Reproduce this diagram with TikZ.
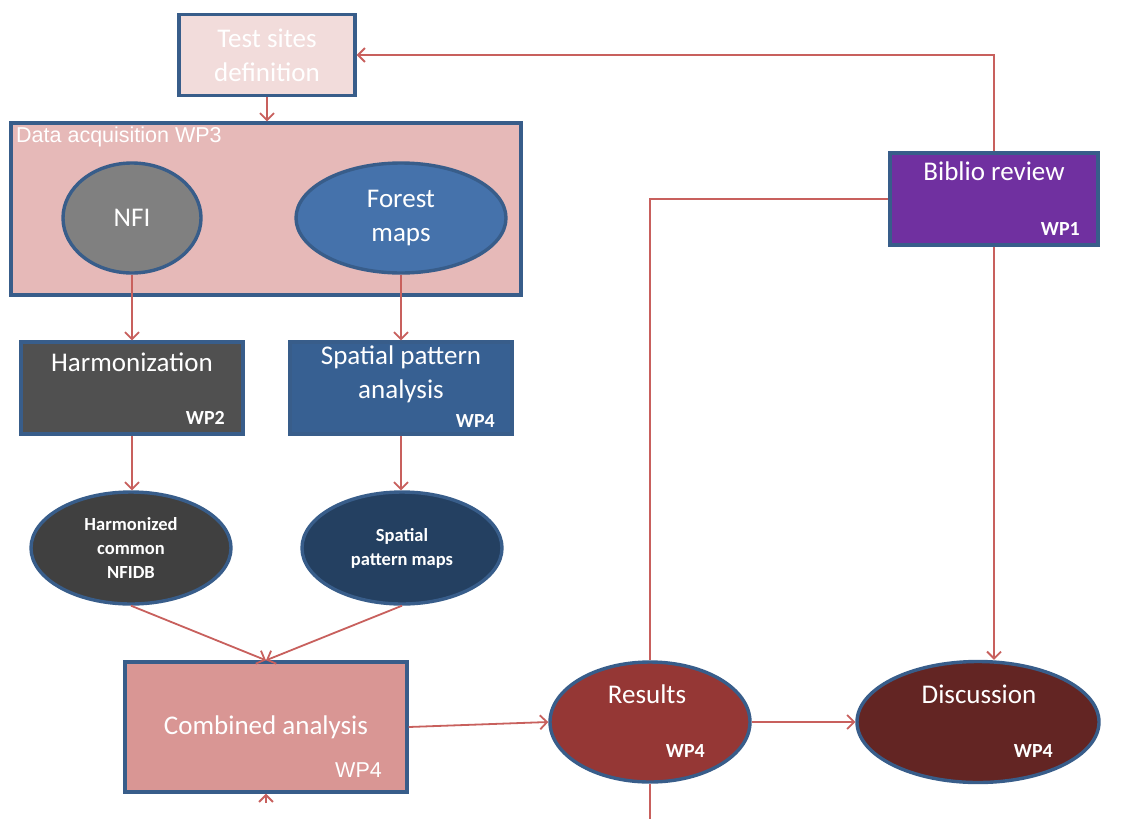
\documentclass[tikz,border=0pt]{standalone}
\usepackage{fontspec}
\setmainfont{Carlito}
\newfontfamily\thinfont{Liberation Sans}
\usetikzlibrary{shapes.geometric,arrows.meta}
\definecolor{bordc}{HTML}{385D8A}
\definecolor{arrc}{HTML}{C8605D}
\definecolor{testc}{HTML}{F2DCDB}
\definecolor{dac}{HTML}{E6B9B8}
\definecolor{nfic}{HTML}{808080}
\definecolor{forc}{HTML}{4572AB}
\definecolor{harmc}{HTML}{505050}
\definecolor{spac}{HTML}{376092}
\definecolor{hdbc}{HTML}{404040}
\definecolor{spmc}{HTML}{244061}
\definecolor{combc}{HTML}{D99694}
\definecolor{bibc}{HTML}{7030A0}
\definecolor{resc}{HTML}{953735}
\definecolor{discc}{HTML}{632523}
\newcommand\mybigfont{\fontsize{27}{34}\selectfont}
\newcommand\mysmallfont{\bfseries\fontsize{18.5}{24}\selectfont}
\newcommand\mywpfont{\bfseries\fontsize{20}{24}\selectfont}
\newcommand\mythinfont{\thinfont\fontsize{21.5}{24}\selectfont}
\begin{document}
\begin{tikzpicture}[x=1pt,y=-1pt,
  box/.style={draw=bordc, line width=3.4pt, inner sep=0pt, text=white, font=\mybigfont, align=center},
  ell/.style={box, ellipse},
  txt/.style={inner sep=0pt, text=white, font=\mybigfont, align=center},
  wp/.style={inner sep=0pt, text=white, font=\mywpfont, anchor=base east},
  arr/.style={draw=arrc, line width=1.8pt, -{Straight Barb[length=7pt,width=14pt]}},
  conn/.style={draw=arrc, line width=1.8pt}]
\useasboundingbox (0,0) rectangle (1126,819);
\fill[white] (0,0) rectangle (1126,819);

% shapes
\node[box, fill=testc, minimum width=176pt, minimum height=81pt] (test) at (267,55) {Test sites\\definition};
\node[box, fill=dac, minimum width=510pt, minimum height=172pt] (da) at (266,209) {};
\node[anchor=north west, inner sep=0pt, text=white, font=\mythinfont] (dalab) at (16,127) {Data acquisition WP3};
\node[ell, fill=nfic, minimum width=138pt, minimum height=110pt] (nfi) at (132,218) {NFI};
\node[ell, fill=forc, minimum width=210pt, minimum height=110pt] (forest) at (401,218) {Forest\\maps};

\node[box, fill=harmc, minimum width=222pt, minimum height=92pt] (harm) at (132,388) {};
\node[txt, anchor=base] (harmt) at (132,371) {Harmonization};
\node[wp] (harmwp) at (225,424) {WP2};

\node[box, fill=spac, minimum width=222pt, minimum height=92pt] (spa) at (401,388) {};
\node[txt] (spat) at (401,374) {Spatial pattern\\analysis};
\node[wp] (spawp) at (495,427) {WP4};

\node[ell, fill=hdbc, minimum width=200pt, minimum height=112pt, font=\mysmallfont] (hdb) at (131,548) {Harmonized\\common\\NFIDB};
\node[ell, fill=spmc, minimum width=200pt, minimum height=112pt, font=\mysmallfont] (spm) at (402,548) {Spatial\\pattern maps};

\node[box, fill=combc, minimum width=282pt, minimum height=130pt] (comb) at (266,727) {Combined analysis};
\node[inner sep=0pt, text=white, font=\mythinfont, anchor=base east] (combwp) at (382,777) {WP4};

\node[box, fill=bibc, minimum width=208pt, minimum height=92pt] (bib) at (994,199) {};
\node[txt, anchor=base] (bibt) at (994,180) {Biblio review};
\node[wp] (bibwp) at (1080,235) {WP1};

\node[ell, fill=resc, minimum width=200pt, minimum height=120pt] (res) at (650,722) {};
\node[txt, anchor=base] (rest) at (647,703) {Results};
\node[wp] (reswp) at (705,757) {WP4};

\node[ell, fill=discc, minimum width=242pt, minimum height=121pt] (disc) at (978,722) {};
\node[txt, anchor=base] (disct) at (979,703) {Discussion};
\node[wp] (discwp) at (1053,757) {WP4};

\coordinate (resbot) at (650,819);
\coordinate (combbot) at (266,803);

% connectors
\draw[arr] (test.south) -- (test.south |- da.north);
\draw[arr] (nfi.south) -- (nfi.south |- harm.north);
\draw[arr] (forest.south) -- (forest.south |- spa.north);
\draw[arr] (harm.south) -- (harm.south |- hdb.north);
\draw[arr] (spa.south) -- (spa.south |- spm.north);
\draw[arr] (hdb.south) -- (comb.north);
\draw[arr] (spm.south) -- (comb.north);
\draw[arr] (comb.east) -- (res.west);
\draw[arr] (res.east) -- (disc.west);
\draw[arr] (bib.north) |- (test.east);
\draw[conn] (bib.west) -| (res.north);
\draw[conn] (res.south) -- (resbot);
\draw[arr] (bib.south) -- (bib.south |- disc.north);
\draw[arr] (combbot) -- (comb.south);
\end{tikzpicture}
\end{document}
